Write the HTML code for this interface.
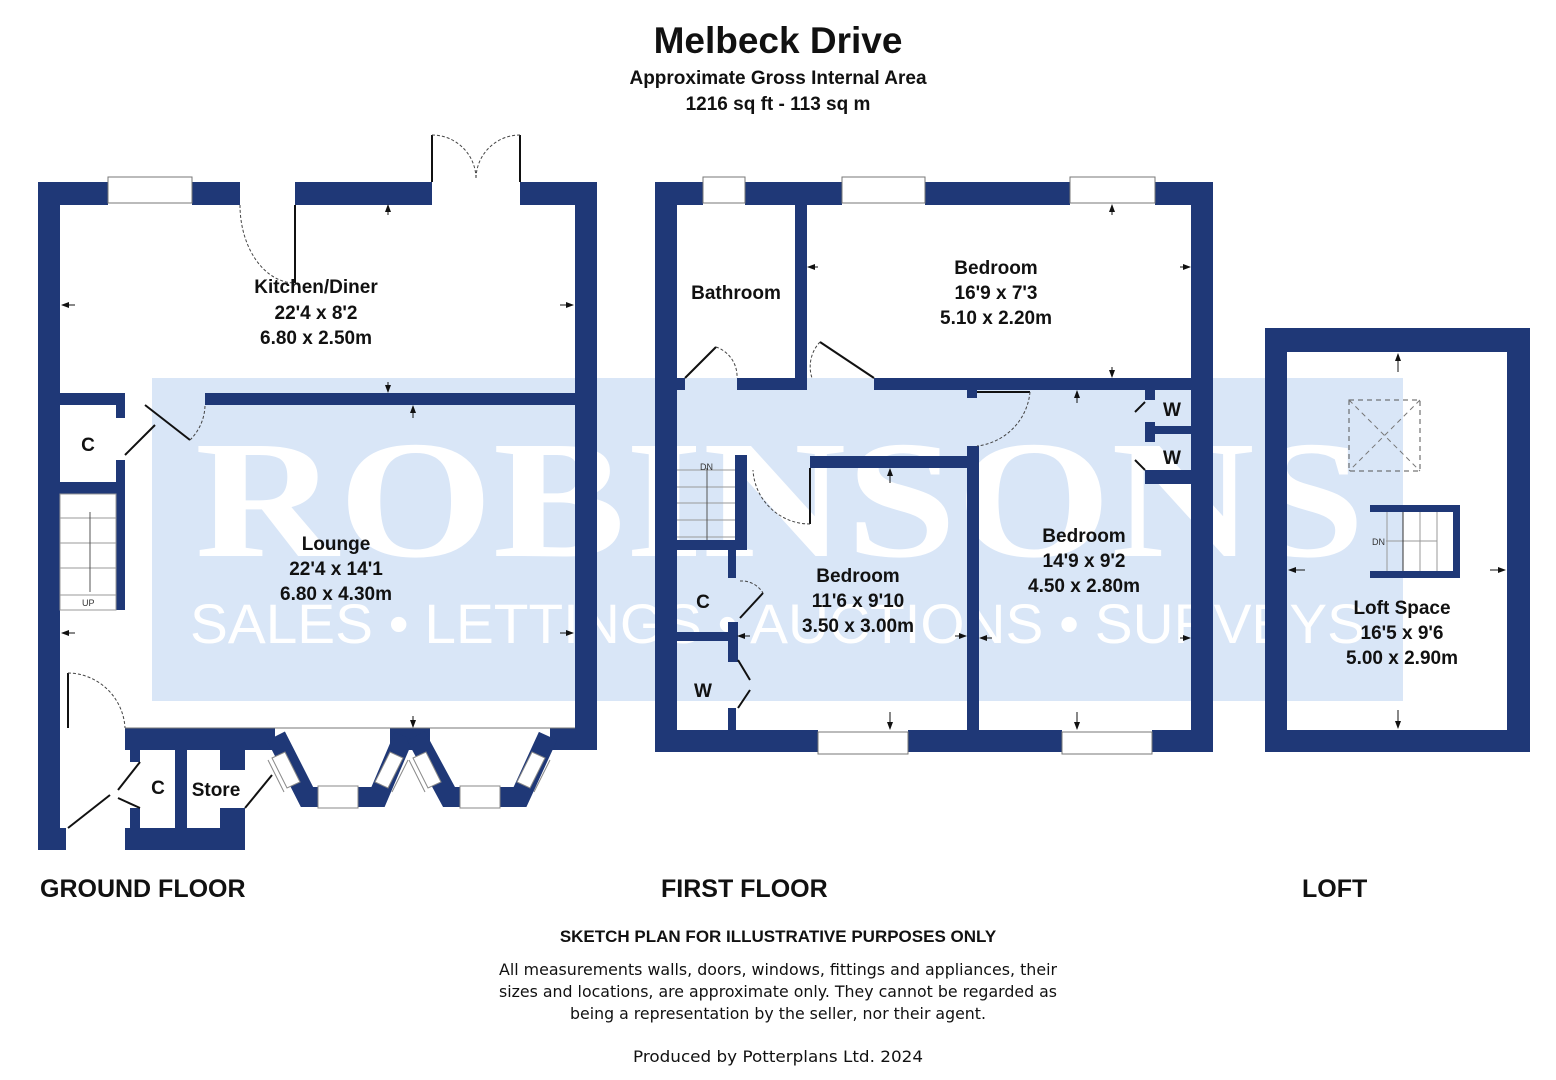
<!DOCTYPE html>
<html><head><meta charset="utf-8"><style>
html,body{margin:0;padding:0;background:#fff;width:1556px;height:1080px;overflow:hidden}
svg{display:block}
</style></head><body>
<svg width="1556" height="1080" viewBox="0 0 1556 1080" xmlns="http://www.w3.org/2000/svg" font-family="Liberation Sans, sans-serif">
<defs>
<marker id="ar" markerWidth="8" markerHeight="8" refX="7" refY="4" orient="auto"><path d="M0,1 L8,4 L0,7z" fill="#111"/></marker>
<clipPath id="wm"><rect x="152" y="378" width="1251" height="323"/></clipPath>
</defs>
<!-- header -->
<text x="778" y="53" font-size="37" font-weight="bold" text-anchor="middle" fill="#111">Melbeck Drive</text>
<text x="778" y="84" font-size="19" font-weight="bold" text-anchor="middle" fill="#111">Approximate Gross Internal Area</text>
<text x="778" y="110" font-size="19" font-weight="bold" text-anchor="middle" fill="#111">1216 sq ft - 113 sq m</text>

<!-- watermark -->
<g clip-path="url(#wm)">
<rect x="152" y="378" width="1251" height="323" fill="#d9e6f7"/>
<text x="195" y="556" style="font-family:'Liberation Serif',serif;font-weight:bold" font-size="168" fill="#fff" textLength="1170" lengthAdjust="spacingAndGlyphs">ROBINSONS</text>
<text x="190" y="643" font-size="56" fill="#fff" textLength="1175" lengthAdjust="spacingAndGlyphs">SALES • LETTINGS • AUCTIONS • SURVEYS</text>
</g>

<g fill="#1f3877">
<!-- GROUND FLOOR -->
<rect x="38" y="182" width="70" height="23"/>
<rect x="192" y="182" width="48" height="23"/>
<rect x="295" y="182" width="137" height="23"/>
<rect x="520" y="182" width="77" height="23"/>
<rect x="38" y="182" width="22" height="668"/>
<rect x="575" y="182" width="22" height="568"/>
<rect x="60" y="393" width="65" height="12"/>
<rect x="205" y="393" width="370" height="12"/>
<rect x="116" y="405" width="9" height="13"/>
<rect x="116" y="460" width="9" height="30"/>
<rect x="60" y="482" width="65" height="12"/>
<rect x="116" y="494" width="9" height="116"/>
<rect x="125" y="728" width="150" height="22"/>
<rect x="390" y="728" width="40" height="22"/>
<rect x="550" y="728" width="47" height="22"/>
<rect x="38" y="828" width="28" height="22"/>
<rect x="125" y="828" width="120" height="22"/>
<rect x="130" y="740" width="10" height="22"/>
<rect x="130" y="808" width="10" height="20"/>
<rect x="175" y="740" width="12" height="88"/>
<rect x="220" y="750" width="25" height="20"/>
<rect x="220" y="808" width="25" height="20"/>
<!-- FIRST FLOOR -->
<rect x="655" y="182" width="48" height="23"/>
<rect x="745" y="182" width="97" height="23"/>
<rect x="925" y="182" width="145" height="23"/>
<rect x="1155" y="182" width="58" height="23"/>
<rect x="655" y="182" width="22" height="570"/>
<rect x="1191" y="182" width="22" height="570"/>
<rect x="655" y="730" width="163" height="22"/>
<rect x="908" y="730" width="154" height="22"/>
<rect x="1152" y="730" width="61" height="22"/>
<rect x="795" y="205" width="12" height="180"/>
<rect x="677" y="378" width="8" height="12"/>
<rect x="737" y="378" width="70" height="12"/>
<rect x="874" y="378" width="317" height="12"/>
<rect x="967" y="390" width="10" height="8"/>
<rect x="1145" y="390" width="10" height="10"/>
<rect x="1145" y="422" width="10" height="20"/>
<rect x="1155" y="426" width="36" height="8"/>
<rect x="1145" y="470" width="46" height="14"/>
<rect x="810" y="456" width="167" height="12"/>
<rect x="967" y="446" width="12" height="284"/>
<rect x="735" y="455" width="12" height="93"/>
<rect x="677" y="540" width="70" height="10"/>
<rect x="728" y="550" width="8" height="28"/>
<rect x="677" y="632" width="58" height="9"/>
<rect x="728" y="622" width="10" height="40"/>
<rect x="728" y="708" width="8" height="22"/>
<!-- LOFT -->
<rect x="1265" y="328" width="265" height="24"/>
<rect x="1265" y="730" width="265" height="22"/>
<rect x="1265" y="328" width="22" height="424"/>
<rect x="1507" y="328" width="23" height="424"/>
<rect x="1370" y="505" width="90" height="7"/>
<rect x="1370" y="571" width="90" height="7"/>
<rect x="1453" y="505" width="7" height="73"/>
</g>
<!-- bays -->
<g fill="none" stroke="#1f3877" stroke-width="20" stroke-linejoin="miter">
<polyline points="276,736 307,797 378,797 404,736"/>
<polyline points="416,736 449,797 520,797 548,736"/>
</g>
<g fill="#fff" stroke="#888" stroke-width="1">
<rect x="318" y="786" width="40" height="22"/>
<rect x="460" y="786" width="40" height="22"/>
<polygon points="272,758 285,752 300,782 287,788"/>
<polygon points="375,782 390,752 403,758 388,788"/>
<polygon points="413,758 426,752 441,782 428,788"/>
<polygon points="517,782 532,752 545,758 530,788"/>
</g>
<rect x="270" y="718" width="290" height="10" fill="#fff"/>
<g stroke="#888" stroke-width="1" fill="none">
<line x1="268" y1="760" x2="284" y2="792"/><line x1="392" y1="792" x2="408" y2="760"/>
<line x1="409" y1="760" x2="425" y2="792"/><line x1="534" y1="792" x2="550" y2="760"/>
</g>

<g stroke="#999" stroke-width="1"><line x1="1387" y1="512" x2="1387" y2="571"/><line x1="1420" y1="512" x2="1420" y2="571"/><line x1="1437" y1="512" x2="1437" y2="571"/><line x1="1386" y1="541" x2="1437" y2="541"/></g>
<line x1="1403" y1="512" x2="1403" y2="571" stroke="#333"/>
<text x="1372" y="545" font-size="9" fill="#333">DN</text>
<rect x="1349" y="400" width="71" height="71" fill="none" stroke="#555" stroke-dasharray="5,4"/>
<path d="M1349,400 L1420,471 M1420,400 L1349,471" stroke="#777" stroke-dasharray="5,4"/>

<!-- windows -->
<g fill="#fff" stroke="#777" stroke-width="1">
<rect x="108" y="177" width="84" height="26"/>
<rect x="703" y="177" width="42" height="26"/>
<rect x="842" y="177" width="83" height="26"/>
<rect x="1070" y="177" width="85" height="26"/>
<rect x="818" y="732" width="90" height="22"/>
<rect x="1062" y="732" width="90" height="22"/>
</g>
<line x1="125" y1="728" x2="575" y2="728" stroke="#777"/>

<!-- doors -->
<g fill="none" stroke="#111" stroke-width="2">
<line x1="295" y1="205" x2="295" y2="283"/>
<line x1="432" y1="135" x2="432" y2="182"/>
<line x1="520" y1="135" x2="520" y2="182"/>
<line x1="145" y1="405" x2="190" y2="440"/>
<line x1="125" y1="455" x2="155" y2="425"/>
<line x1="68" y1="673" x2="68" y2="728"/>
<line x1="68" y1="828" x2="110" y2="795"/>
<line x1="140" y1="762" x2="118" y2="790"/>
<line x1="118" y1="798" x2="140" y2="808"/>
<line x1="245" y1="808" x2="272" y2="775"/>
<line x1="685" y1="378" x2="716" y2="347"/>
<line x1="820" y1="342" x2="874" y2="378"/>
<line x1="977" y1="392" x2="1030" y2="392"/>
<line x1="810" y1="468" x2="810" y2="524"/>
<line x1="740" y1="618" x2="763" y2="593"/>
<line x1="738" y1="660" x2="750" y2="680"/>
<line x1="738" y1="708" x2="750" y2="690"/>
<line x1="1145" y1="402" x2="1135" y2="412"/>
<line x1="1145" y1="470" x2="1135" y2="460"/>
</g>
<g fill="none" stroke="#444" stroke-width="1" stroke-dasharray="3,2">
<path d="M240,205 A55,78 0 0 0 295,283"/>
<path d="M432,135 A44,44 0 0 1 476,179 M520,135 A44,44 0 0 0 476,179"/>
<path d="M190,440 A50,50 0 0 0 205,405"/>
<path d="M68,673 A58,58 0 0 1 125,728"/>
<path d="M716,347 A31,31 0 0 1 737,378"/>
<path d="M820,342 A36,36 0 0 0 812,378"/>
<path d="M1030,392 A60,60 0 0 1 977,446"/>
<path d="M810,524 A57,57 0 0 1 753,470"/>
<path d="M740,581 A25,25 0 0 1 763,593"/>
</g>
<!-- stairs -->
<g stroke="#999" stroke-width="1" fill="none">
<rect x="60" y="494" width="56" height="116"/>
<line x1="60" y1="518" x2="116" y2="518"/><line x1="60" y1="543" x2="116" y2="543"/><line x1="60" y1="568" x2="116" y2="568"/><line x1="60" y1="595" x2="116" y2="595"/>
<line x1="90" y1="512" x2="90" y2="592" stroke="#555"/>
<line x1="677" y1="470" x2="735" y2="470"/><line x1="677" y1="487" x2="735" y2="487"/><line x1="677" y1="503" x2="735" y2="503"/><line x1="677" y1="520" x2="735" y2="520"/><line x1="677" y1="537" x2="735" y2="537"/>
<line x1="707" y1="468" x2="707" y2="540" stroke="#555"/>
</g>
<text x="82" y="606" font-size="9" fill="#333">UP</text>
<text x="700" y="470" font-size="9" fill="#333">DN</text>

<!-- dimension arrows -->
<g stroke="#111" stroke-width="1" marker-end="url(#ar)">
<line x1="75" y1="305" x2="62" y2="305"/><line x1="560" y1="305" x2="573" y2="305"/>
<line x1="388" y1="215" x2="388" y2="205"/><line x1="388" y1="382" x2="388" y2="392"/>
<line x1="413" y1="418" x2="413" y2="406"/>
<line x1="75" y1="633" x2="62" y2="633"/><line x1="560" y1="633" x2="573" y2="633"/>
<line x1="413" y1="716" x2="413" y2="727"/>
<line x1="818" y1="267" x2="808" y2="267"/><line x1="1180" y1="267" x2="1190" y2="267"/>
<line x1="1112" y1="215" x2="1112" y2="205"/><line x1="1112" y1="367" x2="1112" y2="377"/>
<line x1="1077" y1="403" x2="1077" y2="391"/>
<line x1="890" y1="483" x2="890" y2="469"/>
<line x1="750" y1="636" x2="738" y2="636"/><line x1="955" y1="636" x2="966" y2="636"/>
<line x1="992" y1="638" x2="980" y2="638"/><line x1="1180" y1="638" x2="1190" y2="638"/>
<line x1="890" y1="712" x2="890" y2="729"/><line x1="1077" y1="712" x2="1077" y2="729"/>
<line x1="1398" y1="372" x2="1398" y2="354"/><line x1="1398" y1="710" x2="1398" y2="728"/>
<line x1="1305" y1="570" x2="1289" y2="570"/><line x1="1490" y1="570" x2="1505" y2="570"/>
</g>

<!-- room labels -->
<g font-weight="bold" font-size="19" fill="#111" text-anchor="middle">
<text x="316" y="293">Kitchen/Diner</text><text x="316" y="319">22'4 x 8'2</text><text x="316" y="344">6.80 x 2.50m</text>
<text x="336" y="550">Lounge</text><text x="336" y="575">22'4 x 14'1</text><text x="336" y="600">6.80 x 4.30m</text>
<text x="88" y="451">C</text>
<text x="158" y="794">C</text>
<text x="216" y="796">Store</text>
<text x="736" y="299">Bathroom</text>
<text x="996" y="274">Bedroom</text><text x="996" y="299">16'9 x 7'3</text><text x="996" y="324">5.10 x 2.20m</text>
<text x="1172" y="416">W</text><text x="1172" y="464">W</text>
<text x="1084" y="542">Bedroom</text><text x="1084" y="567">14'9 x 9'2</text><text x="1084" y="592">4.50 x 2.80m</text>
<text x="858" y="582">Bedroom</text><text x="858" y="607">11'6 x 9'10</text><text x="858" y="632">3.50 x 3.00m</text>
<text x="703" y="608">C</text><text x="703" y="697">W</text>
<text x="1402" y="614">Loft Space</text><text x="1402" y="639">16'5 x 9'6</text><text x="1402" y="664">5.00 x 2.90m</text>
</g>
<g font-weight="bold" font-size="25" fill="#111">
<text x="40" y="897">GROUND FLOOR</text>
<text x="661" y="897">FIRST FLOOR</text>
<text x="1302" y="897">LOFT</text>
</g>
<text x="778" y="942" font-size="17" font-weight="bold" text-anchor="middle" fill="#111">SKETCH PLAN FOR ILLUSTRATIVE PURPOSES ONLY</text>
<g font-size="16" text-anchor="middle" fill="#111" style="font-family:'DejaVu Sans','Liberation Sans',sans-serif">
<text x="778" y="975" textLength="558" lengthAdjust="spacingAndGlyphs">All measurements walls, doors, windows, fittings and appliances, their</text>
<text x="778" y="997" textLength="558" lengthAdjust="spacingAndGlyphs">sizes and locations, are approximate only. They cannot be regarded as</text>
<text x="778" y="1019" textLength="416" lengthAdjust="spacingAndGlyphs">being a representation by the seller, nor their agent.</text>
<text x="778" y="1062" textLength="290" lengthAdjust="spacingAndGlyphs">Produced by Potterplans Ltd. 2024</text>
</g>
</svg>
</body></html>
